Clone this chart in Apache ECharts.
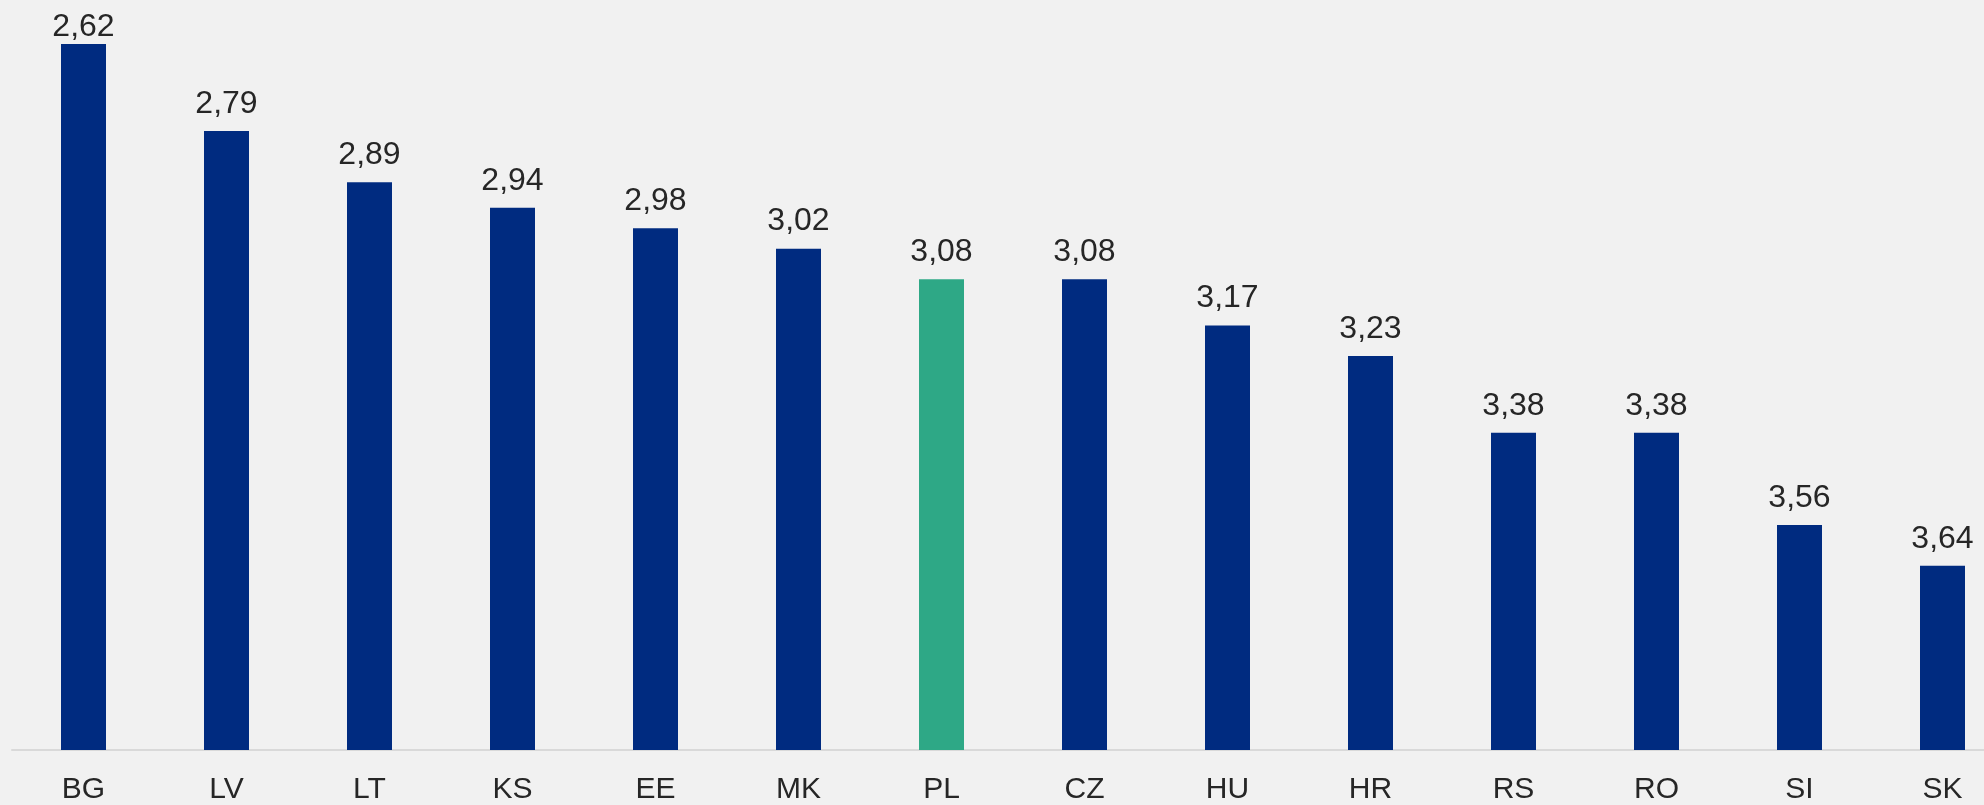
<!DOCTYPE html>
<html>
<head>
<meta charset="utf-8">
<script src="https://cdn.jsdelivr.net/npm/echarts@6/dist/echarts.min.js"></script>
<style>
  html, body { margin: 0; padding: 0; background: #f1f1f1; overflow: hidden; }
  /* wykres szerszy niż okno - ostatnia kategoria wychodzi poza prawą krawędź */
  #chart { width: 2014px; height: 805px; }
</style>
</head>
<body>
<div id="chart"></div>
<script>
// kraje i wartości (mniejsza wartość = wyższy słupek, podstawa osi = 4)
let countries = ['BG', 'LV', 'LT', 'KS', 'EE', 'MK', 'PL', 'CZ', 'HU', 'HR', 'RS', 'RO', 'SI', 'SK'];
let values = [2.62, 2.79, 2.89, 2.94, 2.98, 3.02, 3.08, 3.08, 3.17, 3.23, 3.38, 3.38, 3.56, 3.64];
let highlight = 'PL';
let base = 4;

let blue = '#002b80';
let green = '#2ea886';

let chart = echarts.init(document.getElementById('chart'));

let barData = [];
for (let i in countries) {
    let item = {
        value: +(base - values[i]).toFixed(4),
        itemStyle: { color: countries[i] === highlight ? green : blue }
    };
    // pierwsza etykieta dociśnięta do słupka (brak miejsca u góry)
    if (i == 0) item.label = { distance: 1 };
    barData.push(item);
}

let option = {
    backgroundColor: '#f1f1f1',
    grid: { left: 12, right: 0, top: 44, bottom: 54 },
    xAxis: {
        type: 'category',
        data: countries,
        axisTick: { show: false },
        axisLine: { lineStyle: { color: '#d9d9d9', width: 2 } },
        axisLabel: {
            color: '#262626',
            fontSize: 30,
            fontFamily: 'Liberation Sans, Arial, sans-serif',
            margin: 25
        }
    },
    yAxis: {
        type: 'value',
        min: 0,
        max: +(base - values[0]).toFixed(4),
        show: false,
        splitLine: { show: false }
    },
    series: [{
        type: 'bar',
        data: barData,
        barWidth: 45,
        clip: false,
        label: {
            show: true,
            position: 'top',
            distance: 11,
            color: '#262626',
            fontSize: 32,
            fontFamily: 'Liberation Sans, Arial, sans-serif',
            formatter: function (p) {
                return values[p.dataIndex].toFixed(2).replace('.', ',');
            }
        }
    }]
};

chart.setOption(option);
</script>
</body>
</html>
